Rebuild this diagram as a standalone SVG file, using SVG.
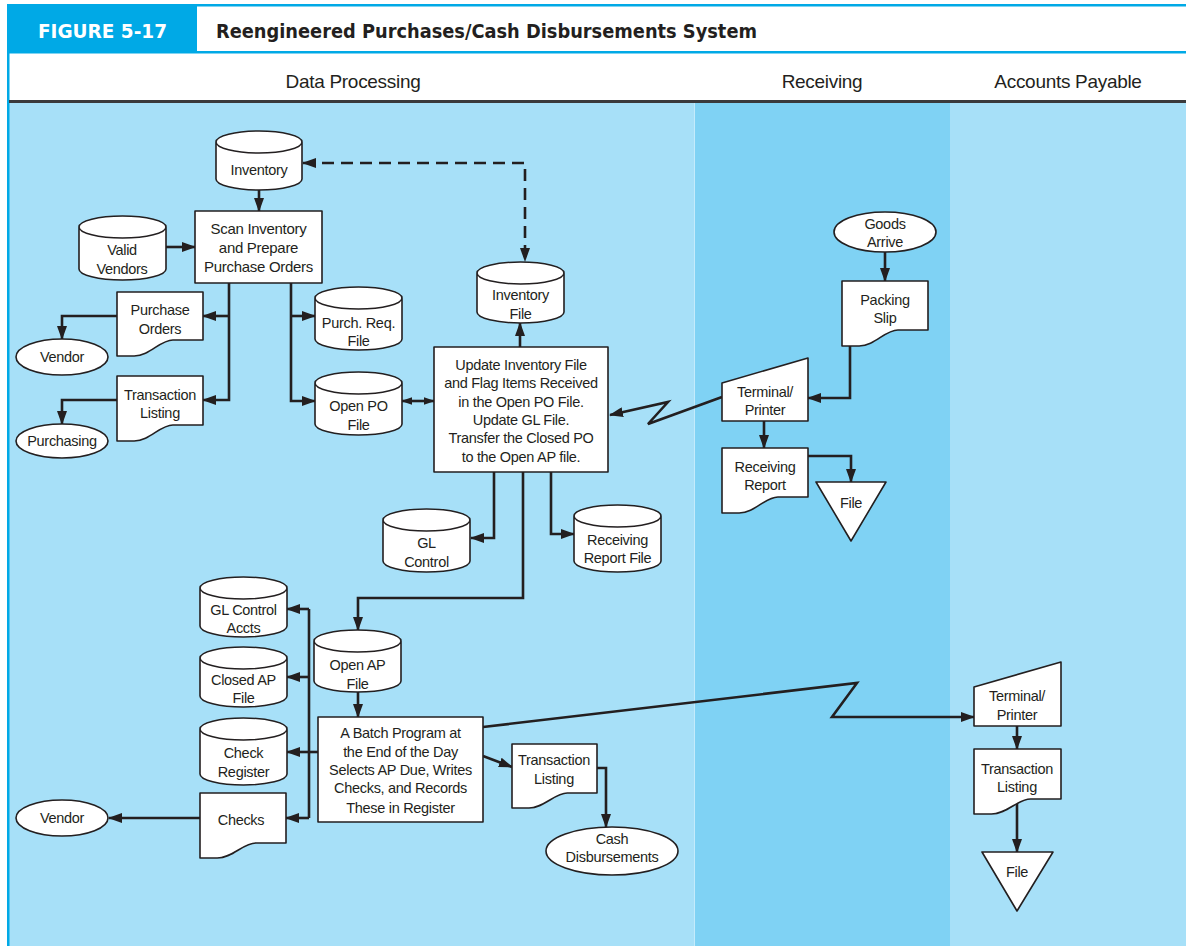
<svg xmlns="http://www.w3.org/2000/svg" width="1186" height="946" viewBox="0 0 1186 946">
  <defs>
    <marker id="arrow" markerUnits="userSpaceOnUse" viewBox="0 0 14 10" markerWidth="14" markerHeight="10" refX="13" refY="5" orient="auto-start-reverse">
      <path d="M0,0 L14,5 L0,10 Z" fill="#231f20"/>
    </marker>
    <marker id="arrow-sm" markerUnits="userSpaceOnUse" viewBox="0 0 12 8" markerWidth="11" markerHeight="8" refX="11" refY="4" orient="auto-start-reverse">
      <path d="M0,0 L12,4 L0,8 Z" fill="#231f20"/>
    </marker>
    <style>
      .node { fill: #ffffff; stroke: #231f20; stroke-width: 1.6; stroke-linejoin: round; }
      .edge { fill: none; stroke: #231f20; stroke-width: 2.6; stroke-linejoin: miter; }
      .dash { stroke-dasharray: 12 7; }
      .lbl { font-family: "Liberation Sans", Arial, sans-serif; font-size: 14.5px; letter-spacing: -0.3px; fill: #231f20; text-anchor: middle; }
      .big { font-size: 15px; }
      .lane { font-family: "Liberation Sans", Arial, sans-serif; font-size: 19px; letter-spacing: -0.3px; fill: #231f20; text-anchor: middle; }
      .title { font-family: "DejaVu Sans Condensed", "DejaVu Sans", sans-serif; font-weight: bold; font-size: 20px; }
    </style>
  </defs>

  <!-- page and swimlanes -->
  <rect x="0" y="0" width="1186" height="946" fill="#ffffff"/>
  <rect x="9" y="103" width="686" height="843" fill="#a7e0f8"/>
  <rect x="695" y="103" width="255" height="843" fill="#7fd2f4"/>
  <rect x="950" y="103" width="236" height="843" fill="#a7e0f8"/>
  <line x1="694.5" y1="103" x2="694.5" y2="946" stroke="#c4ebfb" stroke-width="1"/>

  <!-- figure heading -->
  <rect x="7" y="4" width="1179" height="2.5" fill="#00a9e6"/>
  <rect x="7" y="4" width="190" height="48" fill="#00a9e6"/>
  <rect x="7" y="51" width="1179" height="2.5" fill="#00a9e6"/>
  <rect x="7" y="4" width="2.5" height="942" fill="#00a9e6"/>
  <text class="title" x="38" y="38" fill="#ffffff" textLength="129" lengthAdjust="spacingAndGlyphs">FIGURE 5-17</text>
  <text class="title" x="216" y="38" fill="#231f20" textLength="541" lengthAdjust="spacingAndGlyphs">Reengineered Purchases/Cash Disbursements System</text>

  <!-- lane titles -->
  <text class="lane" x="353" y="88">Data Processing</text>
  <text class="lane" x="822" y="88">Receiving</text>
  <text class="lane" x="1068" y="88">Accounts Payable</text>
  <rect x="9" y="100" width="1177" height="3" fill="#3a3a3c"/>

  <!-- connectors -->
  <g id="connectors">
    <path class="edge" d="M259,190 V211" marker-end="url(#arrow)"/>
    <path class="edge" d="M166,247 H195" marker-end="url(#arrow)"/>
    <path class="edge" d="M229,283 V400 H203" marker-end="url(#arrow)"/>
    <path class="edge" d="M229,316 H203" marker-end="url(#arrow)"/>
    <path class="edge" d="M291,283 V401 H315" marker-end="url(#arrow)"/>
    <path class="edge" d="M291,316 H315" marker-end="url(#arrow)"/>
    <path class="edge" d="M117,316 H62 V339" marker-end="url(#arrow)"/>
    <path class="edge" d="M117,400 H62 V424" marker-end="url(#arrow)"/>
    <path class="edge" d="M402,401 H434" marker-start="url(#arrow-sm)" marker-end="url(#arrow-sm)"/>
    <path class="edge dash" d="M303,163 H525 V261" marker-start="url(#arrow)" marker-end="url(#arrow)"/>
    <path class="edge" d="M520,347 V323" marker-end="url(#arrow)"/>
    <path class="edge" d="M722,397 L648,424 L668,402 L610,415" marker-end="url(#arrow)"/>
    <path class="edge" d="M885,252 V281" marker-end="url(#arrow)"/>
    <path class="edge" d="M850,340 V398 H808" marker-end="url(#arrow)"/>
    <path class="edge" d="M764,421 V448" marker-end="url(#arrow)"/>
    <path class="edge" d="M808,456 H851 V482" marker-end="url(#arrow)"/>
    <path class="edge" d="M494,472 V538 H471" marker-end="url(#arrow)"/>
    <path class="edge" d="M551,472 V534 H574" marker-end="url(#arrow)"/>
    <path class="edge" d="M523,472 V598 H358 V630" marker-end="url(#arrow)"/>
    <path class="edge" d="M358,692 V717" marker-end="url(#arrow)"/>
    <path class="edge" d="M309,609 V818"/>
    <path class="edge" d="M309,609 H287" marker-end="url(#arrow)"/>
    <path class="edge" d="M309,677 H287" marker-end="url(#arrow)"/>
    <path class="edge" d="M318,752 H287" marker-end="url(#arrow)"/>
    <path class="edge" d="M309,818 H286" marker-end="url(#arrow)"/>
    <path class="edge" d="M200,818 H109" marker-end="url(#arrow)"/>
    <path class="edge" d="M483,756 L512,767" marker-end="url(#arrow)"/>
    <path class="edge" d="M597,768 H606 V827" marker-end="url(#arrow)"/>
    <path class="edge" d="M483,727 L857,683 L832,717 H974" marker-end="url(#arrow)"/>
    <path class="edge" d="M1017,726 V749" marker-end="url(#arrow)"/>
    <path class="edge" d="M1017,800 V852" marker-end="url(#arrow)"/>
  </g>

  <!-- Data Processing nodes -->
  <g id="inventory">
    <path class="node" d="M216,142 V179 A43,11 0 0 0 302,179 V142 A43,11 0 0 0 216,142 Z M216,142 A43,11 0 0 0 302,142"/>
    <text class="lbl" x="259" y="175">Inventory</text>
  </g>
  <g id="scan-inventory">
    <rect class="node" x="195" y="211" width="127" height="72"/>
    <text class="lbl big" x="258.5" y="234">Scan Inventory</text>
    <text class="lbl big" x="258.5" y="253">and Prepare</text>
    <text class="lbl big" x="258.5" y="272">Purchase Orders</text>
  </g>
  <g id="valid-vendors">
    <path class="node" d="M79,227 V269 A43.5,11 0 0 0 166,269 V227 A43.5,11 0 0 0 79,227 Z M79,227 A43.5,11 0 0 0 166,227"/>
    <text class="lbl" x="122" y="255">Valid</text>
    <text class="lbl" x="122" y="274">Vendors</text>
  </g>
  <g id="purchase-orders">
    <path class="node" d="M117,292 H203 V340 H172.9 C160,340 149.7,356 134.2,356 H117 Z"/>
    <text class="lbl" x="160" y="315">Purchase</text>
    <text class="lbl" x="160" y="334">Orders</text>
  </g>
  <g id="vendor-po">
    <ellipse class="node" cx="62" cy="357" rx="46" ry="18"/>
    <text class="lbl" x="62" y="362">Vendor</text>
  </g>
  <g id="transaction-listing-po">
    <path class="node" d="M117,376 H203 V425 H172.9 C160,425 149.7,441 134.2,441 H117 Z"/>
    <text class="lbl" x="160" y="400">Transaction</text>
    <text class="lbl" x="160" y="418">Listing</text>
  </g>
  <g id="purchasing">
    <ellipse class="node" cx="62" cy="441" rx="46" ry="17"/>
    <text class="lbl" x="62" y="446">Purchasing</text>
  </g>
  <g id="purch-req-file">
    <path class="node" d="M315,298 V339 A43.5,11 0 0 0 402,339 V298 A43.5,11 0 0 0 315,298 Z M315,298 A43.5,11 0 0 0 402,298"/>
    <text class="lbl" x="358.5" y="328">Purch. Req.</text>
    <text class="lbl" x="358.5" y="346">File</text>
  </g>
  <g id="open-po-file">
    <path class="node" d="M315,383 V424 A43.5,11 0 0 0 402,424 V383 A43.5,11 0 0 0 315,383 Z M315,383 A43.5,11 0 0 0 402,383"/>
    <text class="lbl" x="358.5" y="411">Open PO</text>
    <text class="lbl" x="358.5" y="430">File</text>
  </g>
  <g id="inventory-file">
    <path class="node" d="M477,273 V312 A43.5,11 0 0 0 564,312 V273 A43.5,11 0 0 0 477,273 Z M477,273 A43.5,11 0 0 0 564,273"/>
    <text class="lbl" x="520.5" y="300">Inventory</text>
    <text class="lbl" x="520.5" y="319">File</text>
  </g>
  <g id="update-inventory">
    <rect class="node" x="434" y="347" width="174" height="125"/>
    <text class="lbl" x="521" y="370">Update Inventory File</text>
    <text class="lbl" x="521" y="388">and Flag Items Received</text>
    <text class="lbl" x="521" y="407">in the Open PO File.</text>
    <text class="lbl" x="521" y="425">Update GL File.</text>
    <text class="lbl" x="521" y="443">Transfer the Closed PO</text>
    <text class="lbl" x="521" y="462">to the Open AP file.</text>
  </g>
  <g id="gl-control">
    <path class="node" d="M383,520 V561 A43.5,11 0 0 0 470,561 V520 A43.5,11 0 0 0 383,520 Z M383,520 A43.5,11 0 0 0 470,520"/>
    <text class="lbl" x="426.5" y="548">GL</text>
    <text class="lbl" x="426.5" y="567">Control</text>
  </g>
  <g id="receiving-report-file">
    <path class="node" d="M574,516 V561 A43.5,11 0 0 0 661,561 V516 A43.5,11 0 0 0 574,516 Z M574,516 A43.5,11 0 0 0 661,516"/>
    <text class="lbl" x="617.5" y="545">Receiving</text>
    <text class="lbl" x="617.5" y="563">Report File</text>
  </g>
  <g id="open-ap-file">
    <path class="node" d="M314,641 V681 A43.5,11 0 0 0 401,681 V641 A43.5,11 0 0 0 314,641 Z M314,641 A43.5,11 0 0 0 401,641"/>
    <text class="lbl" x="357.5" y="670">Open AP</text>
    <text class="lbl" x="357.5" y="689">File</text>
  </g>
  <g id="batch-program">
    <rect class="node" x="318" y="717" width="165" height="105"/>
    <text class="lbl" x="400.5" y="738">A Batch Program at</text>
    <text class="lbl" x="400.5" y="757">the End of the Day</text>
    <text class="lbl" x="400.5" y="775">Selects AP Due, Writes</text>
    <text class="lbl" x="400.5" y="793">Checks, and Records</text>
    <text class="lbl" x="400.5" y="813">These in Register</text>
  </g>
  <g id="gl-control-accts">
    <path class="node" d="M200,588 V626 A43.5,11 0 0 0 287,626 V588 A43.5,11 0 0 0 200,588 Z M200,588 A43.5,11 0 0 0 287,588"/>
    <text class="lbl" x="243.5" y="615">GL Control</text>
    <text class="lbl" x="243.5" y="633">Accts</text>
  </g>
  <g id="closed-ap-file">
    <path class="node" d="M200,658 V696 A43.5,11 0 0 0 287,696 V658 A43.5,11 0 0 0 200,658 Z M200,658 A43.5,11 0 0 0 287,658"/>
    <text class="lbl" x="243.5" y="685">Closed AP</text>
    <text class="lbl" x="243.5" y="703">File</text>
  </g>
  <g id="check-register">
    <path class="node" d="M200,729 V774 A43.5,11 0 0 0 287,774 V729 A43.5,11 0 0 0 200,729 Z M200,729 A43.5,11 0 0 0 287,729"/>
    <text class="lbl" x="243.5" y="758">Check</text>
    <text class="lbl" x="243.5" y="777">Register</text>
  </g>
  <g id="checks">
    <path class="node" d="M200,793 H286 V843 H255.9 C243,843 232.7,858 217.2,858 H200 Z"/>
    <text class="lbl" x="241" y="825">Checks</text>
  </g>
  <g id="vendor-checks">
    <ellipse class="node" cx="62" cy="818" rx="46" ry="18"/>
    <text class="lbl" x="62" y="823">Vendor</text>
  </g>
  <g id="transaction-listing-dp">
    <path class="node" d="M512,744 H597 V793 H567.3 C554.5,793 544.3,808 529,808 H512 Z"/>
    <text class="lbl" x="554" y="765">Transaction</text>
    <text class="lbl" x="554" y="784">Listing</text>
  </g>
  <g id="cash-disbursements">
    <ellipse class="node" cx="612" cy="851" rx="66" ry="24"/>
    <text class="lbl" x="612" y="844">Cash</text>
    <text class="lbl" x="612" y="862">Disbursements</text>
  </g>

  <!-- Receiving nodes -->
  <g id="goods-arrive">
    <ellipse class="node" cx="885" cy="232" rx="51" ry="20"/>
    <text class="lbl" x="885" y="229">Goods</text>
    <text class="lbl" x="885" y="247">Arrive</text>
  </g>
  <g id="packing-slip">
    <path class="node" d="M842,281 H928 V330 H897.9 C885,330 874.7,346 859.2,346 H842 Z"/>
    <text class="lbl" x="885" y="305">Packing</text>
    <text class="lbl" x="885" y="323">Slip</text>
  </g>
  <g id="terminal-receiving">
    <polygon class="node" points="722,383 808,358 808,421 722,421"/>
    <text class="lbl" x="765" y="397">Terminal/</text>
    <text class="lbl" x="765" y="415">Printer</text>
  </g>
  <g id="receiving-report">
    <path class="node" d="M722,448 H808 V497 H777.9 C765,497 754.7,513 739.2,513 H722 Z"/>
    <text class="lbl" x="765" y="472">Receiving</text>
    <text class="lbl" x="765" y="490">Report</text>
  </g>
  <g id="file-receiving">
    <polygon class="node" points="816,482 886,482 851,541"/>
    <text class="lbl" x="851" y="508">File</text>
  </g>

  <!-- Accounts Payable nodes -->
  <g id="terminal-ap">
    <polygon class="node" points="974,687 1061,662 1061,726 974,726"/>
    <text class="lbl" x="1017" y="701">Terminal/</text>
    <text class="lbl" x="1017" y="720">Printer</text>
  </g>
  <g id="transaction-listing-ap">
    <path class="node" d="M974,749 H1061 V799 H1030.6 C1017.5,799 1007.1,814 991.4,814 H974 Z"/>
    <text class="lbl" x="1017" y="774">Transaction</text>
    <text class="lbl" x="1017" y="792">Listing</text>
  </g>
  <g id="file-ap">
    <polygon class="node" points="982,852 1053,852 1017,911"/>
    <text class="lbl" x="1017" y="877">File</text>
  </g>
</svg>
